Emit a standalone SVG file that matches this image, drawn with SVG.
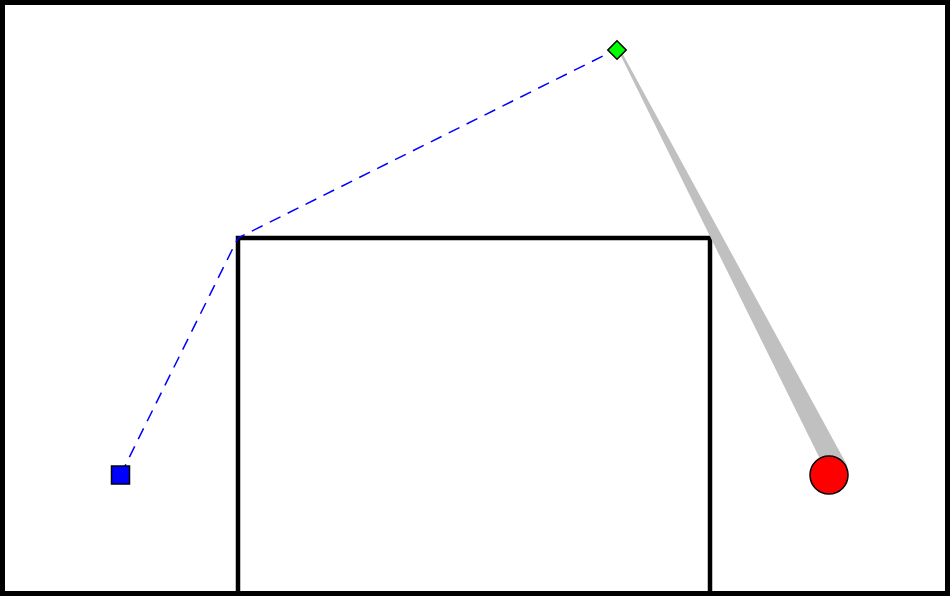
<svg xmlns="http://www.w3.org/2000/svg" width="950" height="596" viewBox="0 0 950 596">
<style>
.wall{fill:none;stroke:#000;stroke-width:4.5}
.path{fill:none;stroke:#0000ff;stroke-width:1.5;stroke-dasharray:12,8}
.node{stroke:#000;stroke-width:1.5}
</style>
<rect x="0" y="0" width="950" height="596" fill="#fff"/>
<g id="walls">
<rect class="wall" x="2.5" y="2.5" width="945" height="591" style="stroke-width:5"/>
<path class="wall" d="M238,598 V238 H710 V598"/>
</g>
<g id="beam">
<polygon points="617.5,49 620,49 847.5,466 823.5,466" fill="#c0c0c0"/>
</g>
<g id="connectors">
<polyline class="path" points="120.5,475 238,238 617,49"/>
</g>
<g id="start">
<rect class="node" x="111.5" y="466" width="18" height="18" fill="#0000ff"/>
</g>
<g id="waypoint">
<rect class="node" x="610.5" y="43.5" width="13" height="13" fill="#00ff00" transform="rotate(45 617 50)"/>
</g>
<g id="goal">
<circle class="node" cx="829" cy="475" r="19" fill="#ff0000"/>
</g>
</svg>
